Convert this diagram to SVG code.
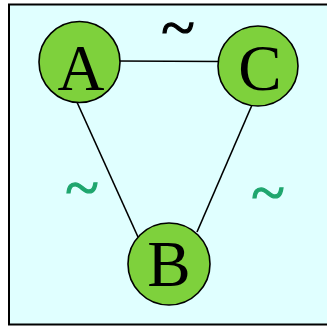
<svg xmlns="http://www.w3.org/2000/svg" width="327" height="332" viewBox="0 0 327 332">
<style>
.node circle{fill:#7ed13c;stroke:#000;stroke-width:1.6}
.node text,.tl{font-family:"Liberation Serif","Times New Roman",serif;text-anchor:middle}
.node text{font-size:65px;fill:#000}
.tl{font-size:62px;stroke-width:1.2}
#connectors line{stroke:#000;stroke-width:1.6}
</style>
<rect x="9" y="4.5" width="330" height="320" fill="#e0ffff" stroke="#000" stroke-width="2"/>
<g id="connectors">
<line x1="117" y1="61" x2="222" y2="61.5"/>
<line x1="76" y1="100" x2="138" y2="237"/>
<line x1="252" y1="105" x2="197" y2="232"/>
</g>
<text class="tl" x="178" y="48" fill="#000" stroke="#000">~</text>
<text class="tl" x="82" y="208" fill="#1fa66e" stroke="#1fa66e">~</text>
<text class="tl" x="268" y="213" fill="#1fa66e" stroke="#1fa66e">~</text>
<g id="A" class="node"><circle cx="79.5" cy="62" r="40.5"/><text x="81" y="90">A</text></g>
<g id="C" class="node"><circle cx="258" cy="66" r="40"/><text x="260" y="90">C</text></g>
<g id="B" class="node"><circle cx="169" cy="264" r="41"/><text x="169" y="286">B</text></g>
</svg>
